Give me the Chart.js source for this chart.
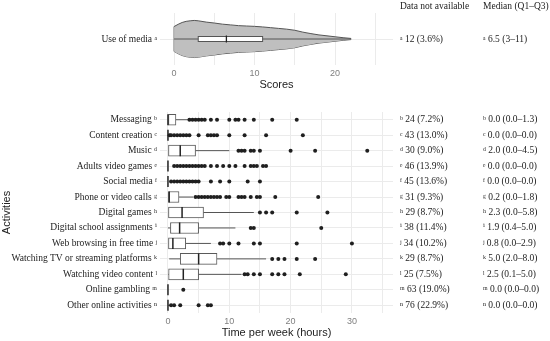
<!DOCTYPE html>
<html>
<head>
<meta charset="utf-8">
<script src="https://cdn.jsdelivr.net/npm/chart.js@4/dist/chart.umd.min.js"></script>
<style>
    html, body { margin: 0; padding: 0; background: #fff; }
    #wrap { position: relative; width: 550px; height: 341px; }
    #topBox { position: absolute; left: 0; top: 0; width: 550px; height: 95px; }
    #botBox { position: absolute; left: 0; top: 95px; width: 550px; height: 246px; }
</style>
</head>
<body>
<div id="wrap">
    <div id="topBox"><canvas id="topChart"></canvas></div>
    <div id="botBox"><canvas id="botChart"></canvas></div>
</div>
<script>
/*
 * Media use scores (violin + box) and weekly hours per activity (box plots),
 * with the "not available" and median columns on the right.
 */

// --- top panel: use of media score ---
const mediaScores  = [0, 0.5, 1, 1.5, 2, 2.5, 3, 4, 5, 6, 7, 8, 9, 10, 11, 12, 13, 14, 15, 16, 17, 18, 19, 20, 21, 22];
const mediaDensity = [0.67, 0.79, 0.89, 0.95, 0.98, 1.0, 0.98, 0.91, 0.86, 0.80, 0.76, 0.72, 0.70, 0.68, 0.65, 0.61, 0.57, 0.53, 0.47, 0.37, 0.29, 0.22, 0.17, 0.12, 0.07, 0.03];
const mediaQuart   = [3, 6.5, 11];      // Q1, median, Q3
const mediaWhisker = [0, 22];
const mediaNA      = [12, 3.6];         // count, percent
const scoreTicks   = [0, 5, 10, 15, 20, 25];

// --- bottom panel: time per week (hours) ---
const activities = [
    'Messaging', 'Content creation', 'Music', 'Adults video games', 'Social media',
    'Phone or video calls', 'Digital games', 'Digital school assignments',
    'Web browsing in free time', 'Watching TV or streaming platforms',
    'Watching video content', 'Online gambling', 'Other online activities',
];
const supLetters = ['ᵇ', 'ᶜ', 'ᵈ', 'ᵉ', 'ᶠ', 'ᵍ', 'ʰ', 'ⁱ', 'ʲ', 'ᵏ', 'ˡ', 'ᵐ', 'ⁿ'];
const naCount  = [24, 43, 30, 46, 45, 31, 29, 38, 34, 29, 25, 63, 76];
const naPct    = [7.2, 13.0, 9.0, 13.9, 13.6, 9.3, 8.7, 11.4, 10.2, 8.7, 7.5, 19.0, 22.9];
const medianH  = [0.0, 0.0, 2.0, 0.0, 0.0, 0.2, 2.3, 1.9, 0.8, 5.0, 2.5, 0.0, 0.0];
const q1H      = [0.0, 0.0, 0.0, 0.0, 0.0, 0.0, 0.0, 0.4, 0.0, 2.0, 0.1, 0.0, 0.0];
const q3H      = [1.3, 0.0, 4.5, 0.0, 0.0, 1.8, 5.8, 5.0, 2.9, 8.0, 5.0, 0.0, 0.0];
const whiskLoH = [0, 0, 0, 0, 0, 0, 0, 0, 0, 0.2, 0, 0, 0];
const whiskHiH = [3.3, 0, 10, 0, 0, 4.1, 14, 11, 7, 16, 12, 0, 0.3];
const outliers = [
    [3.5, 4, 4.5, 5, 5.5, 6, 7, 8, 10, 11, 11.5, 12.5, 14, 17, 21],
    [0.25, 0.5, 1, 1.5, 2, 2.5, 3, 3.5, 5, 6.5, 7, 7.5, 8, 10, 12.5, 16, 22],
    [11.5, 12, 12.5, 13.5, 14, 15, 20, 24, 32.5],
    [1, 1.5, 2, 2.5, 3, 3.5, 4, 4.5, 5, 5.5, 6, 7, 8, 9, 10, 11, 12.5, 13.5, 14, 14.5, 15.5, 16],
    [0.5, 1, 1.5, 2, 2.5, 3, 3.5, 4, 4.5, 5, 7, 8.5, 10, 13, 15],
    [4.5, 5, 5.5, 6, 6.5, 7, 7.5, 8, 8.5, 9.5, 10, 11.5, 12, 12.5, 13.5, 14.5, 15, 17.5, 24.5],
    [15, 16, 17, 21, 26],
    [13.5, 14, 25],
    [8.5, 9, 10, 11.5, 14, 15, 21, 30],
    [17, 18, 19, 21, 24],
    [12.5, 13, 14, 15, 17, 18, 19, 21.5, 29],
    [2.5],
    [0.5, 1, 2, 5, 6.5, 7],
];
const hourTicks = [0, 5, 10, 15, 20, 25, 30, 35];

const SERIF = '"Liberation Serif", "DejaVu Serif", serif';
const SANS = '"Liberation Sans", Arial, sans-serif';
const GRID = '#ebebeb';
const TEXT = '#222';
const TICK = '#7f7f7f';
const COL_NA = 400;      // x of the "Data not available" column
const COL_MED = 483;     // x of the "Median (Q1–Q3)" column
const LABEL_FONT = 9.5;

const fmt = v => v.toFixed(1);

// box, whisker, median and the right-hand text for the top panel
const mediaPlugin = {
    id: 'mediaBox',
    afterDatasetsDraw(chart) {
        const { ctx, scales: { x, y } } = chart;
        const yc = y.getPixelForValue(0);
        ctx.save();
        ctx.strokeStyle = '#555';
        ctx.lineWidth = 1;
        ctx.beginPath();
        ctx.moveTo(x.getPixelForValue(mediaWhisker[0]), yc);
        ctx.lineTo(x.getPixelForValue(mediaWhisker[1]), yc);
        ctx.stroke();

        const b1 = x.getPixelForValue(mediaQuart[0]);
        const b2 = x.getPixelForValue(mediaQuart[2]);
        ctx.fillStyle = '#fff';
        ctx.fillRect(b1, yc - 2.5, b2 - b1, 5);
        ctx.strokeRect(b1, yc - 2.5, b2 - b1, 5);
        const m = x.getPixelForValue(mediaQuart[1]);
        ctx.strokeStyle = '#222';
        ctx.lineWidth = 1.3;
        ctx.beginPath();
        ctx.moveTo(m, yc - 3.5);
        ctx.lineTo(m, yc + 3.5);
        ctx.stroke();

        ctx.fillStyle = TEXT;
        ctx.font = LABEL_FONT + 'px ' + SERIF;
        ctx.textBaseline = 'middle';
        ctx.fillText('Data not available', COL_NA, 6);
        ctx.fillText('Median (Q1–Q3)', COL_MED, 6);
        ctx.fillText(`ᵃ ${mediaNA[0]} (${mediaNA[1]}%)`, COL_NA, yc);
        ctx.fillText(`ᵃ ${mediaQuart[1]} (${mediaQuart[0]}–${mediaQuart[2]})`, COL_MED, yc);
        ctx.restore();
    },
};

// whiskers (behind), medians (on top) and the right-hand columns for the bottom panel
const hoursPlugin = {
    id: 'hoursBox',
    beforeDatasetsDraw(chart) {
        const { ctx, scales: { x, y } } = chart;
        ctx.save();
        ctx.strokeStyle = '#555';
        ctx.lineWidth = 1;
        activities.forEach((a, i) => {
            const yc = y.getPixelForValue(i);
            ctx.beginPath();
            ctx.moveTo(x.getPixelForValue(whiskLoH[i]), yc);
            ctx.lineTo(x.getPixelForValue(q1H[i]), yc);
            ctx.moveTo(x.getPixelForValue(q3H[i]), yc);
            ctx.lineTo(x.getPixelForValue(whiskHiH[i]), yc);
            ctx.stroke();
        });
        ctx.restore();
    },
    afterDatasetsDraw(chart) {
        const { ctx, scales: { x, y } } = chart;
        ctx.save();
        ctx.strokeStyle = '#222';
        ctx.lineWidth = 1.5;
        activities.forEach((a, i) => {
            const yc = y.getPixelForValue(i);
            const m = x.getPixelForValue(medianH[i]);
            ctx.beginPath();
            ctx.moveTo(m, yc - 5.5);
            ctx.lineTo(m, yc + 5.5);
            ctx.stroke();
        });
        ctx.fillStyle = TEXT;
        ctx.font = LABEL_FONT + 'px ' + SERIF;
        ctx.textBaseline = 'middle';
        activities.forEach((a, i) => {
            const yc = y.getPixelForValue(i);
            ctx.fillText(`${supLetters[i]} ${naCount[i]} (${fmt(naPct[i])}%)`, COL_NA, yc);
            ctx.fillText(`${supLetters[i]} ${fmt(medianH[i])} (${fmt(q1H[i])}–${fmt(q3H[i])})`, COL_MED, yc);
        });
        ctx.restore();
    },
};

const violinUpper = mediaScores.map((s, i) => ({ x: s, y: mediaDensity[i] }));
const violinLower = mediaScores.map((s, i) => ({ x: s, y: -mediaDensity[i] }));
const violinEdge = [{ x: mediaScores[0], y: -mediaDensity[0] }, { x: mediaScores[0], y: mediaDensity[0] }];

new Chart(document.getElementById('topChart'), {
    type: 'scatter',
    data: {
        datasets: [
            { data: violinUpper, showLine: true, fill: '+1', backgroundColor: '#bfbfbf', borderColor: '#555', borderWidth: 1, pointRadius: 0, cubicInterpolationMode: 'monotone' },
            { data: violinLower, showLine: true, fill: false, borderColor: '#555', borderWidth: 1, pointRadius: 0, cubicInterpolationMode: 'monotone' },
            { data: violinEdge, showLine: true, fill: false, borderColor: '#555', borderWidth: 1, pointRadius: 0 },
        ],
    },
    options: {
        responsive: true,
        maintainAspectRatio: false,
        animation: false,
        layout: { padding: { top: 13, right: 157, left: 0, bottom: 0 } },
        plugins: { legend: { display: false }, tooltip: { enabled: false } },
        scales: {
            x: {
                type: 'linear', min: -1.75, max: 27.2,
                afterBuildTicks: s => { s.ticks = scoreTicks.map(v => ({ value: v })); },
                afterFit: s => { s.height = 30; },
                ticks: { color: TICK, font: { family: SANS, size: 9 }, padding: 3, maxRotation: 0,
                    callback: v => (v % 10 === 0 ? v : '') },
                grid: { color: GRID, drawTicks: false },
                border: { display: false },
                title: { display: true, text: 'Scores', color: TEXT, font: { family: SANS, size: 11 }, padding: { top: 0, bottom: 3 } },
            },
            y: {
                type: 'linear', min: -1.4, max: 1.4,
                afterBuildTicks: s => { s.ticks = [{ value: 0 }]; },
                afterFit: s => { s.width = 160; },
                ticks: { color: TEXT, font: { family: SERIF, size: LABEL_FONT }, padding: 3, callback: () => 'Use of media ᵃ' },
                grid: { color: GRID, drawTicks: false },
                border: { display: false },
            },
        },
    },
    plugins: [mediaPlugin],
});

const rowLabels = activities.map((a, i) => a + ' ' + supLetters[i]);
const outlierPoints = [];
outliers.forEach((vals, i) => vals.forEach(v => outlierPoints.push({ x: v, y: rowLabels[i] })));

new Chart(document.getElementById('botChart'), {
    type: 'bar',
    data: {
        labels: rowLabels,
        datasets: [
            {
                data: activities.map((a, i) => [q1H[i], q3H[i]]),
                backgroundColor: '#fff', borderColor: '#5a5a5a', borderWidth: 1, borderSkipped: false,
                barThickness: 11, order: 2,
            },
            {
                type: 'scatter', data: outlierPoints, backgroundColor: '#1f1f1f', borderColor: '#1f1f1f',
                pointRadius: 2, borderWidth: 0, order: 1,
            },
        ],
    },
    options: {
        indexAxis: 'y',
        responsive: true,
        maintainAspectRatio: false,
        animation: false,
        layout: { padding: { top: 17, right: 157, left: 0, bottom: 0 } },
        plugins: { legend: { display: false }, tooltip: { enabled: false } },
        scales: {
            x: {
                type: 'linear', min: -1.3, max: 36.7,
                afterBuildTicks: s => { s.ticks = hourTicks.map(v => ({ value: v })); },
                afterFit: s => { s.height = 28; },
                ticks: { color: TICK, font: { family: SANS, size: 9 }, padding: 3, maxRotation: 0,
                    callback: v => (v % 10 === 0 ? v : '') },
                grid: { color: GRID, drawTicks: false },
                border: { display: false },
                title: { display: true, text: 'Time per week (hours)', color: TEXT, font: { family: SANS, size: 11 }, padding: { top: 0, bottom: 1 } },
            },
            y: {
                type: 'category',
                afterFit: s => { s.width = 160; },
                ticks: { color: TEXT, font: { family: SERIF, size: LABEL_FONT }, padding: 3, autoSkip: false },
                grid: { color: GRID, drawTicks: false, offset: false },
                border: { display: false },
                title: { display: true, text: 'Activities', color: TEXT, font: { family: SANS, size: 11 }, padding: 0 },
            },
        },
    },
    plugins: [hoursPlugin],
});
</script>
</body>
</html>
